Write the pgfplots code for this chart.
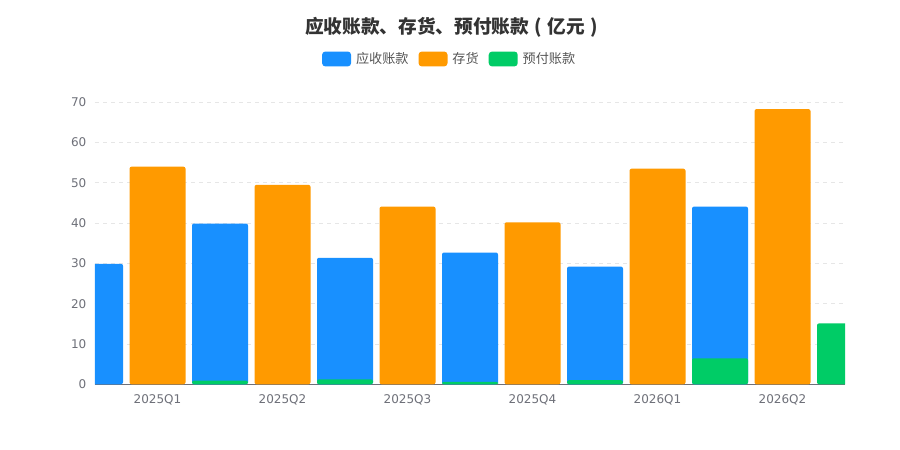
\documentclass[border=0pt]{standalone}
\usepackage{pgfplots}
\pgfplotsset{compat=1.18}
\usepackage{fontspec}
\setmainfont{DejaVu Sans}
\newfontfamily\cjk{Noto Sans CJK SC}
\definecolor{cBlue}{HTML}{1890FF}
\definecolor{cOrange}{HTML}{FF9A00}
\definecolor{cGreen}{HTML}{00CC66}
\definecolor{labelgray}{HTML}{6E7079}
\definecolor{axisgray}{HTML}{6E7079}
\definecolor{gridgray}{HTML}{E6E6E6}
\definecolor{titlegray}{HTML}{333333}
\definecolor{legendgray}{HTML}{555555}
\pgfplotsset{
  mybar/.style={ybar, bar width=0.448, bar shift=0pt, draw=none, fill=#1,
    rounded corners=1.5pt,
    legend image code/.code={\fill[#1, rounded corners=2.5pt] (0pt,-5.6pt) rectangle (21.75pt,5.6pt);}},
}
\begin{document}
\begin{tikzpicture}
\path[use as bounding box] (0,0) rectangle (675pt,337.5pt);
\fill[white] (0,0) rectangle (675pt,337.5pt);
\node[font=\cjk\bfseries\fontsize{14}{17}\selectfont, text=titlegray] at (340.8pt,317.25pt) {应收账款、存货、预付账款\makebox[1em][c]{(}亿元\makebox[1em][c]{)}};
\begin{axis}[
  at={(71.25pt,49.3pt)}, anchor=south west,
  scale only axis, width=562.5pt, height=211.5pt,
  xmin=-0.5, xmax=5.5, ymin=0, ymax=70,
  ytick={0,10,...,70},
  xtick={0,...,5},
  xticklabels={2025Q1,2025Q2,2025Q3,2025Q4,2026Q1,2026Q2},
  ymajorgrids,
  grid style={gridgray, dash pattern=on 3pt off 3pt, line width=0.6pt},
  axis x line*=bottom, axis y line*=left,
  x axis line style={axisgray, line width=0.75pt, -},
  y axis line style={draw=none},
  major tick length=0pt,
  tick style={draw=none},
  /pgf/number format/assume math mode=true,
  ticklabel style={font=\fontsize{9}{11}\selectfont, text=labelgray},
  yticklabel style={xshift=-3pt},
  xticklabel style={yshift=-4pt},
  legend style={at={(0.4733,1.1535)}, anchor=center, draw=none, fill=none,
    legend columns=3, font=\cjk\fontsize{9.85}{12}\selectfont, text=legendgray,
    /tikz/every even column/.append style={column sep=5.5pt},
    /tikz/every odd column/.append style={column sep=1.7pt}},
  legend cell align=left,
]
\addplot[mybar=cBlue] coordinates {(-0.5,29.9) (0.5,39.9) (1.5,31.4) (2.5,32.7) (3.5,29.2) (4.5,44.1)};
\addlegendentry{应收账款}
\addplot[mybar=cOrange] coordinates {(0,54.0) (1,49.5) (2,44.1) (3,40.2) (4,53.5) (5,68.3)};
\addlegendentry{存货}
\addplot[mybar=cGreen] coordinates {(0.5,0.9) (1.5,1.2) (2.5,0.6) (3.5,1.0) (4.5,6.45) (5.5,15.1)};
\addlegendentry{预付账款}
\end{axis}
\end{tikzpicture}
\end{document}
